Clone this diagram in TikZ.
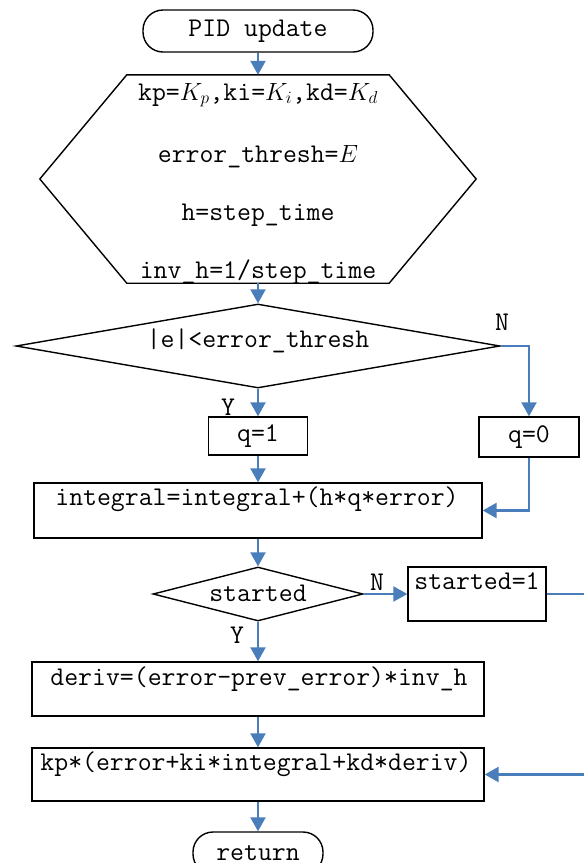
\documentclass[tikz,border=0pt]{standalone}
\usepackage{fontspec}
\usetikzlibrary{shapes.geometric,arrows.meta}
\definecolor{flowblue}{RGB}{74,126,187}
\begin{document}
\begin{tikzpicture}[x=1pt,y=-1pt,
  every node/.style={font=\ttfamily\fontsize{27}{32}\selectfont, inner sep=0pt},
  blk/.style={draw=black, line width=1.4pt},
  box/.style={blk, rectangle},
  term/.style={blk, rectangle, rounded corners=20pt},
  dec/.style={blk, diamond},
  lbl/.style={anchor=base},
  flow/.style={draw=flowblue, line width=2.4pt, -{Triangle[width=15pt,length=14pt]}},
  plain/.style={draw=flowblue, line width=2.4pt}
]
\useasboundingbox (0,0) rectangle (584,863);
\clip (0,0) rectangle (584,863);

% start
\node[term, minimum width=230, minimum height=42] (start) at (258,31) {PID update};

% hexagon
\node[minimum width=262, minimum height=208] (hex) at (258,179) {};
\node[lbl] (h1) at (258,100) {kp=$K_p$,ki=$K_i$,kd=$K_d$};
\node[lbl] (h2) at (258,162) {error\_thresh=$E$};
\node[lbl] (h3) at (258,220) {h=step\_time};
\node[lbl] (h4) at (258,278) {inv\_h=1/step\_time};
\draw[blk, line join=miter] (hex.north west) -- (hex.north east) -- ([xshift=87pt]hex.east) -- (hex.south east) -- (hex.south west) -- ([xshift=-87pt]hex.west) -- cycle;

% decision 1
\node[dec, minimum width=484, minimum height=84] (d1) at (258,346) {};
\node[lbl] (d1t) at (258,347) {|e|<error\_thresh};
\node (n1) at (502,322) {N};
\node (y1) at (228,407) {Y};

\node[box, minimum width=99, minimum height=38] (q1) at (258,436) {q=1};
\node[box, minimum width=100, minimum height=40] (q0) at (529,437) {q=0};

% integral
\node[box, minimum width=448, minimum height=55] (int) at (258,510.5) {};
\node[lbl] (intt) at (257,505) {integral=integral+(h*q*error)};

% decision 2
\node[dec, minimum width=210, minimum height=54] (d2) at (258,594) {};
\node[lbl] (d2t) at (258,601) {started};
\node (n2) at (377,582) {N};
\node (y2) at (237,635) {Y};

\node[box, minimum width=138, minimum height=54] (st) at (477,594) {};
\node[lbl] (stt) at (477,589) {started=1};

% deriv
\node[box, minimum width=452, minimum height=54] (der) at (258,689) {};
\node[lbl] (dert) at (259,685) {deriv=(error-prev\_error)*inv\_h};

% output
\node[box, minimum width=452, minimum height=53] (kp) at (258,774.5) {};
\node[lbl] (kpt) at (256,770) {kp*(error+ki*integral+kd*deriv)};

% return
\node[term, minimum width=130, minimum height=42] (ret) at (258,853) {return};

% connectors
\draw[flow] (start.south) -- (hex.north);
\draw[flow] (hex.south) -- (d1.north);
\draw[flow] (d1.south) -- (q1.north);
\draw[flow] (d1.east) -| (q0.north);
\draw[flow] (q1.south) -- (int.north);
\draw[flow] (q0.south) |- (int.east);
\draw[flow] (int.south) -- (d2.north);
\draw[flow] (d2.east) -- (st.west);
\draw[flow] (d2.south) -- (der.north);
\draw[flow] (der.south) -- (kp.north);
\draw[flow] (kp.south) -- (ret.north);
\coordinate (loopR) at (600,594);
\draw[flow] (st.east) -- (loopR) |- (kp.east);
\end{tikzpicture}
\end{document}
